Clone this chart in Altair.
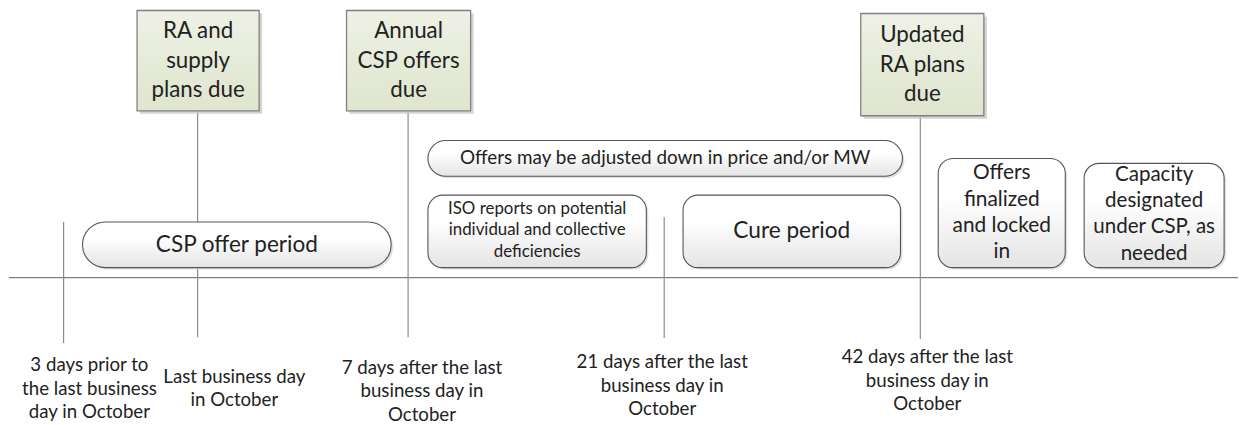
import altair as alt
import pandas as pd

FONT = "Lato"

# ---- milestone boxes (green) ----
green_labels = ["RA and\nsupply\nplans due", "Annual\nCSP offers\ndue", "Updated\nRA plans\ndue"]
green_x = [138, 349, 867]
green_x2 = [261, 474, 991]
green_y = [8, 8, 11]
green_y2 = [109, 109, 114]
green_ty = [29, 29, 33]  # first text line

# ---- period boxes (rounded) ----
pill_labels = ["CSP offer period", "Offers may be adjusted down in price and/or MW"]
pill_x = [83, 431]
pill_x2 = [394, 909]
pill_y = [221, 139]
pill_y2 = [267, 175]
pill_r = [23, 18]
pill_size = [22.7, 19]

box_labels = ["ISO reports on potential\nindividual and collective\ndeficiencies", "Cure period",
              "Offers\nfinalized\nand locked\nin", "Capacity\ndesignated\nunder CSP, as\nneeded"]
box_x = [431, 688, 945, 1092]
box_x2 = [651, 907, 1073, 1233]
box_y = [194, 194, 157, 162]
box_y2 = [267, 267, 267, 267]
box_ty = [208, 230, 172, 174]  # first text line
box_size = [17, 22.8, 21, 20.7]
box_lh = [21.5, 26, 26.5, 26.3]

# ---- vertical milestone lines ----
line_x = [64, 199, 411, 669, 927]
line_y = [221, 109, 109, 216, 114]
line_y2 = [343, 337, 337, 338, 339]

# ---- date labels ----
date_labels = ["3 days prior to\nthe last business\nday in October", "Last business day\nin October",
               "7 days after the last\nbusiness day in\nOctober", "21 days after the last\nbusiness day in\nOctober",
               "42 days after the last\nbusiness day in\nOctober"]
date_x = [90, 236, 425, 667, 934]
date_y = [365, 377, 368, 362, 357]  # first text line

# ---- timeline axis ----
axis_x = [9]
axis_x2 = [1247]
axis_y = [277]

W, H = 1239, 417
xs = alt.Scale(domain=[8, 8 + W], range=[0, W])
ys = alt.Scale(domain=[8 + H, 8])

def X(f):
    return alt.X(f, type="quantitative", scale=xs, axis=None)

def Y(f):
    return alt.Y(f, type="quantitative", scale=ys, axis=None)

def shifted(vals, d):
    return [v + d for v in vals]

green_df = pd.DataFrame({"label": green_labels, "x": green_x, "x2": green_x2, "y": green_y,
                         "y2": green_y2, "ty": green_ty,
                         "cx": [(a + b) / 2 for a, b in zip(green_x, green_x2)],
                         "sx": shifted(green_x, 3), "sx2": shifted(green_x2, 3),
                         "sy": shifted(green_y, 3), "sy2": shifted(green_y2, 3)})

pill_df = pd.DataFrame({"label": pill_labels, "x": pill_x, "x2": pill_x2, "y": pill_y, "y2": pill_y2,
                        "sx": shifted(pill_x, 2), "sx2": shifted(pill_x2, 2),
                        "sy": shifted(pill_y, 2), "sy2": shifted(pill_y2, 2),
                        "cx": [(a + b) / 2 for a, b in zip(pill_x, pill_x2)],
                        "ty": [(a + b) / 2 for a, b in zip(pill_y, pill_y2)]})

box_df = pd.DataFrame({"label": box_labels, "x": box_x, "x2": box_x2, "y": box_y, "y2": box_y2,
                       "sx": shifted(box_x, 2), "sx2": shifted(box_x2, 2),
                       "sy": shifted(box_y, 2), "sy2": shifted(box_y2, 2),
                       "ty": box_ty,
                       "cx": [(a + b) / 2 for a, b in zip(box_x, box_x2)]})

line_df = pd.DataFrame({"x": line_x, "y": line_y, "y2": line_y2})
date_df = pd.DataFrame({"label": date_labels, "x": date_x, "y": date_y})
axis_df = pd.DataFrame({"x": axis_x, "x2": axis_x2, "y": axis_y})

green_grad = alt.LinearGradient(gradient="linear", x1=0, y1=0, x2=0, y2=1,
                                stops=[alt.GradientStop(color="#eef1e5", offset=0),
                                       alt.GradientStop(color="#dfe5ce", offset=1)])
grey_grad = alt.LinearGradient(gradient="linear", x1=0, y1=0, x2=0, y2=1,
                               stops=[alt.GradientStop(color="#ffffff", offset=0),
                                      alt.GradientStop(color="#ffffff", offset=0.35),
                                      alt.GradientStop(color="#e4e4e4", offset=1)])

layers = []

# axis line and vertical lines
layers.append(alt.Chart(axis_df).mark_rule(color="#7f7f7f", strokeWidth=1.2).encode(
    x=X("x"), x2="x2", y=Y("y")))
layers.append(alt.Chart(line_df).mark_rule(color="#8c8c8c", strokeWidth=1.2).encode(
    x=X("x"), y=Y("y"), y2="y2"))

# green shadow + boxes
layers.append(alt.Chart(green_df).mark_rect(color="#c9c9c9", opacity=0.8).encode(
    x=X("sx"), x2="sx2", y=Y("sy"), y2="sy2"))
layers.append(alt.Chart(green_df).mark_rect(color=green_grad, stroke="#808080", strokeWidth=1.3).encode(
    x=X("x"), x2="x2", y=Y("y"), y2="y2"))
layers.append(alt.Chart(green_df).mark_text(font=FONT, fontSize=22.5, lineHeight=29.5, lineBreak="\n",
                                            color="#222222", align="center", baseline="middle").encode(
    x=X("cx"), y=Y("ty"), text="label:N"))

# pills
for i in range(len(pill_labels)):
    d = pill_df.iloc[[i]]
    r = pill_r[i]
    layers.append(alt.Chart(d).mark_rect(color="#d4d4d4", opacity=0.7, cornerRadius=r).encode(
        x=X("sx"), x2="sx2", y=Y("sy"), y2="sy2"))
    layers.append(alt.Chart(d).mark_rect(color=grey_grad, stroke="#555555", strokeWidth=1.1,
                                         cornerRadius=r).encode(
        x=X("x"), x2="x2", y=Y("y"), y2="y2"))
    layers.append(alt.Chart(d).mark_text(font=FONT, fontSize=pill_size[i], color="#222222",
                                         align="center", baseline="middle").encode(
        x=X("cx"), y=Y("ty"), text="label:N"))

# rounded boxes
layers.append(alt.Chart(box_df).mark_rect(color="#d4d4d4", opacity=0.7, cornerRadius=15).encode(
    x=X("sx"), x2="sx2", y=Y("sy"), y2="sy2"))
layers.append(alt.Chart(box_df).mark_rect(color=grey_grad, stroke="#555555", strokeWidth=1.1,
                                          cornerRadius=15).encode(
    x=X("x"), x2="x2", y=Y("y"), y2="y2"))
for i in range(len(box_labels)):
    d = box_df.iloc[[i]]
    layers.append(alt.Chart(d).mark_text(font=FONT, fontSize=box_size[i], lineHeight=box_lh[i],
                                         lineBreak="\n", color="#222222", align="center",
                                         baseline="middle").encode(
        x=X("cx"), y=Y("ty"), text="label:N"))

# date labels
layers.append(alt.Chart(date_df).mark_text(font=FONT, fontSize=18.8, lineHeight=23.8, lineBreak="\n",
                                           color="#222222", align="center", baseline="middle").encode(
    x=X("x"), y=Y("y"), text="label:N"))

chart = alt.layer(*layers).properties(width=W, height=H, padding=0).configure_view(stroke=None)

chart.save("out.html", embed_options={"renderer": "svg", "actions": False})
